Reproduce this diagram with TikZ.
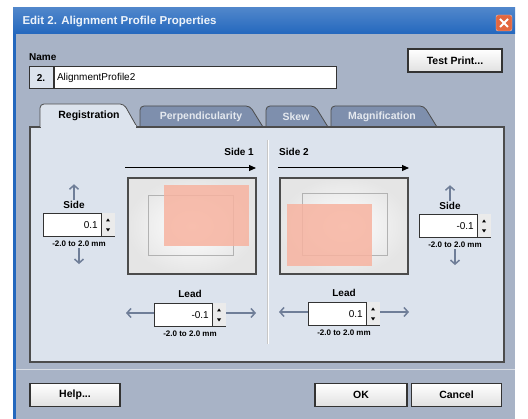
\documentclass[tikz,border=0pt]{standalone}
\usepackage{fontspec}
\setmainfont{Liberation Sans}
\usetikzlibrary{arrows.meta,positioning}

\definecolor{titleblue}{HTML}{2468BE}
\definecolor{bodygray}{HTML}{A8B3C6}
\definecolor{panelblue}{HTML}{DCE3ED}
\definecolor{tabslate}{HTML}{7E8FAD}
\definecolor{paper}{HTML}{F7B3A0}
\definecolor{arrowgray}{HTML}{6F7E98}
\definecolor{closered}{HTML}{E3673F}

\tikzset{
  button/.style={draw=black!80,line width=1.2pt,top color=white,bottom color=black!12,
    minimum height=23pt,font=\fontsize{10.5}{11}\selectfont\bfseries},
  field/.style={draw=black!80,line width=1pt,fill=white,minimum height=22pt,inner sep=3pt,
    font=\fontsize{10}{11}\selectfont},
  txtlabel/.style={font=\fontsize{10}{11}\selectfont\bfseries,inner sep=1pt},
  rangetext/.style={font=\fontsize{8}{9}\selectfont\bfseries,inner sep=1pt},
  tabshape/.style={draw=black!70,line width=0.8pt,rounded corners=4pt,fill=tabslate},
  tabtext/.style={font=\fontsize{10.5}{11}\selectfont\bfseries,text=white!80!tabslate},
  bigarrow/.style={-{Triangle[length=7pt,width=6pt]},line width=1pt},
  grayarrow/.style={-{Straight Barb[length=4pt,width=9pt]},arrowgray,line width=1.5pt},
  picbox/.style={draw=black!70,line width=1.5pt,inner color=white,outer color=black!10,
    minimum width=128pt,minimum height=96pt}
}

% spin box: name, position, value
\newcommand\spinctl[3]{%
  \node[field,minimum width=71pt,minimum height=23pt] (#1) at (#2) {};
  \node[anchor=east,font=\fontsize{10}{11}\selectfont,inner sep=0pt] (#1v) at ([xshift=-17pt]#1.east) {#3};
  \fill[black!8] ([xshift=-14pt,yshift=-0.5pt]#1.north east) rectangle ([xshift=-0.5pt,yshift=0.5pt]#1.south east);
  \draw[line width=1pt,black!80] ([xshift=-14pt]#1.north east) -- ([xshift=-14pt]#1.south east);
  \fill ([xshift=-7pt,yshift=-7pt]#1.north east) +(-2,1.5) -- +(2,1.5) -- +(0,-1.5) -- cycle;
  \fill ([xshift=-7pt,yshift=7pt]#1.south east) +(-2,-1.5) -- +(2,-1.5) -- +(0,1.5) -- cycle;
}

\begin{document}
\begin{tikzpicture}[x=1pt,y=-1pt]
  \useasboundingbox[fill=white] (0,0) rectangle (528,419);
  % window
  \fill[bodygray] (13,34) rectangle (515,419);
  \fill[titleblue] (13,34) rectangle (15.5,419);
  \shade[top color=titleblue!80!white,bottom color=titleblue] (13,8) rectangle (515,34);
  \node[anchor=west,text=white!92!titleblue,font=\fontsize{11.5}{12}\selectfont\bfseries] (title) at (19,22)
    {Edit 2. Alignment Profile Properties};
  \node[fill=closered,draw=white!60!closered,rounded corners=2pt,minimum size=16pt] (close) at (504,23) {};
  \draw[white,line width=2pt] ([shift={(-4pt,4pt)}]close.center) -- ([shift={(4pt,-4pt)}]close.center);
  \draw[white,line width=2pt] ([shift={(-4pt,-4pt)}]close.center) -- ([shift={(4pt,4pt)}]close.center);

  % name
  \node[txtlabel,anchor=west] (namelbl) at (28,57) {Name};
  \node[field,minimum width=24pt,fill=panelblue,font=\fontsize{10}{11}\selectfont\bfseries] (numbox) at (41,78) {2.};
  \node[field,anchor=west,text width=276pt] (namefield) at (numbox.east) {AlignmentProfile2};
  \node[button,minimum width=94pt] (testprint) at (455,60.5) {Test Print...};

  % tabs
  \draw[tabshape] (140,127) -- (140,106) -- (250,106) -- (263,127);
  \draw[tabshape] (266,127) -- (266,106) -- (315,106) -- (328,127);
  \draw[tabshape] (331,127) -- (331,106) -- (424,106) -- (437,127);
  \draw[black!70,line width=1.2pt,fill=panelblue] (30,127) rectangle (504,362);
  \draw[tabshape,fill=panelblue] (40,127) -- (40,104) -- (124,104) -- (137,127);
  \fill[panelblue] (40.5,125) rectangle (136,128.5);
  \node[font=\fontsize{10.5}{11}\selectfont\bfseries] (tabreg) at (89,116) {Registration};
  \node[tabtext] (tabperp) at (201,117) {Perpendicularity};
  \node[tabtext] (tabskew) at (296,117) {Skew};
  \node[tabtext] (tabmag) at (382,117) {Magnification};

  % divider
  \draw[black!22,line width=0.8pt] (267,140) -- (267,344);
  \draw[white,line width=0.8pt] (268,140) -- (268,344);

  % side 1
  \node[txtlabel,anchor=east] (side1) at (255,152) {Side 1};
  \coordinate (s1a) at (125,168);
  \coordinate (s1b) at (256,168);
  \draw[bigarrow] (s1a) -- (s1b);
  \node[picbox] (pic1) at (192,226) {};
  \draw[black!30,line width=0.8pt] (148,195) rectangle (233,255);
  \fill[paper,opacity=0.85] (164,185) rectangle (249,246);

  % side 2
  \node[txtlabel,anchor=west] (side2) at (278,152) {Side 2};
  \coordinate (s2a) at (278,168);
  \coordinate (s2b) at (409,168);
  \draw[bigarrow] (s2a) -- (s2b);
  \node[picbox] (pic2) at (344,226) {};
  \draw[black!30,line width=0.8pt] (302,193) rectangle (387,255);
  \fill[paper,opacity=0.85] (287,204) rectangle (372,266);

  % side spinners
  \spinctl{sidel}{79,225}{0.1}
  \node[txtlabel,above=3pt of sidel.north west,xshift=31pt] (sidellbl) {Side};
  \node[rangetext,below=3pt of sidel] (sidelrng) {-2.0 to 2.0 mm};
  \coordinate[above=16pt of sidellbl.north] (sidelup);
  \coordinate[below=16pt of sidelrng.south] (sideldn);
  \draw[grayarrow] (sidellbl) -- (sidelup);
  \draw[grayarrow] (sidelrng) -- (sideldn);

  \spinctl{sider}{455,226}{-0.1}
  \node[txtlabel,above=3pt of sider.north west,xshift=31pt] (siderlbl) {Side};
  \node[rangetext,below=3pt of sider] (siderrng) {-2.0 to 2.0 mm};
  \coordinate[above=16pt of siderlbl.north] (siderup);
  \coordinate[below=16pt of siderrng.south] (siderdn);
  \draw[grayarrow] (siderlbl) -- (siderup);
  \draw[grayarrow] (siderrng) -- (siderdn);

  % lead spinners
  \spinctl{leadl}{190,315}{-0.1}
  \node[txtlabel,above=4pt of leadl] (leadllbl) {Lead};
  \node[rangetext,below=3pt of leadl] (leadlrng) {-2.0 to 2.0 mm};
  \coordinate (leadlw) at (126,313);
  \coordinate (leadle) at (256,313);
  \draw[grayarrow] ([yshift=2pt]leadl.west) -- (leadlw);
  \draw[grayarrow] ([yshift=2pt]leadl.east) -- (leadle);

  \spinctl{leadr}{344,314}{0.1}
  \node[txtlabel,above=4pt of leadr] (leadrlbl) {Lead};
  \node[rangetext,below=3pt of leadr] (leadrrng) {-2.0 to 2.0 mm};
  \coordinate (leadrw) at (279,312);
  \coordinate (leadre) at (409,312);
  \draw[grayarrow] ([yshift=2pt]leadr.west) -- (leadrw);
  \draw[grayarrow] ([yshift=2pt]leadr.east) -- (leadre);

  % bottom buttons
  \draw[white!55!bodygray,line width=1pt] (15.5,370) -- (515,370);
  \node[button,minimum width=90pt] (help) at (75,395) {Help...};
  \node[button,minimum width=92pt] (ok) at (361,395) {OK};
  \node[button,minimum width=90pt] (cancel) at (456.5,395) {Cancel};
\end{tikzpicture}
\end{document}
